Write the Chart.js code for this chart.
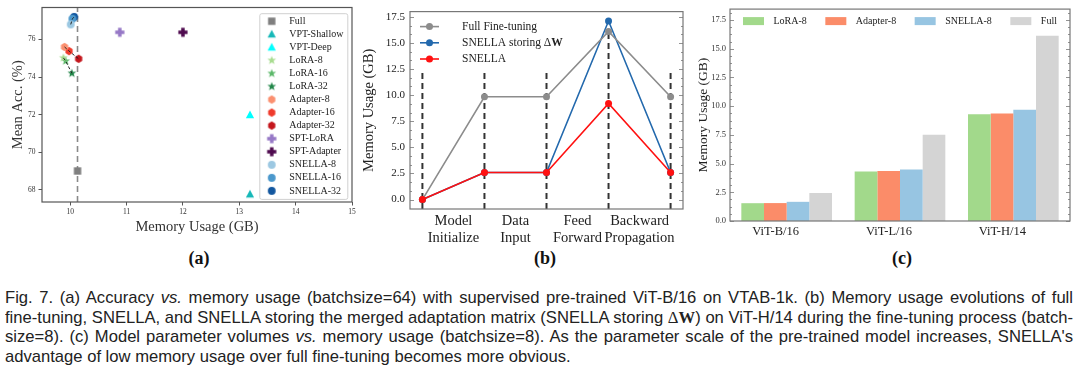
<!DOCTYPE html>
<html>
<head>
<meta charset="utf-8">
<script src="https://cdn.jsdelivr.net/npm/chart.js@4.4.1/dist/chart.umd.min.js"></script>
<style>
  body { margin: 0; background: #fff; width: 1080px; height: 376px; position: relative; overflow: hidden; }
  canvas { position: absolute; }
  #ca { left: 0; top: 0; }
  #cb { left: 360px; top: 0; }
  #cc { left: 690px; top: 0; }
  .plabel { position: absolute; top: 248px; font: bold 18px "Liberation Serif", serif; color: #111; transform: translateX(-50%); }
  #caption { position: absolute; left: 5px; top: 288px; width: 1068px; font-size: 17px; line-height: 19.7px;
             font-family: "Liberation Sans", sans-serif; color: #222; transform-origin: 0 0; }
  #caption div { white-space: nowrap; }
  .dw { font-family: "Liberation Serif", serif; }
</style>
</head>
<body>
<canvas id="ca" width="360" height="240"></canvas>
<canvas id="cb" width="330" height="248"></canvas>
<canvas id="cc" width="390" height="240"></canvas>
<div class="plabel" style="left:199px">(a)</div>
<div class="plabel" style="left:545px">(b)</div>
<div class="plabel" style="left:902px">(c)</div>
<div id="caption">
  <div class="j"><span>Fig. 7. (a) Accuracy <i>vs.</i> memory usage (batchsize=64) with supervised pre-trained ViT-B/16 on VTAB-1k. (b) Memory usage evolutions of full</span></div>
  <div class="j"><span>fine-tuning, SNELLA, and SNELLA storing the merged adaptation matrix (SNELLA storing <span class="dw">&Delta;<b>W</b></span>) on ViT-H/14 during the fine-tuning process (batch-</span></div>
  <div class="j"><span>size=8). (c) Model parameter volumes <i>vs.</i> memory usage (batchsize=8). As the parameter scale of the pre-trained model increases, SNELLA's</span></div>
  <div><span>advantage of low memory usage over full fine-tuning becomes more obvious.</span></div>
</div>
<script>
// (a) accuracy vs. memory usage
const aMethods = ['Full', 'VPT-Shallow', 'VPT-Deep', 'LoRA-8', 'LoRA-16', 'LoRA-32', 'Adapter-8', 'Adapter-16', 'Adapter-32',
                  'SPT-LoRA', 'SPT-Adapter', 'SNELLA-8', 'SNELLA-16', 'SNELLA-32'];
const aMemory = [10.13, 13.19, 13.19, 9.88, 9.92, 10.03, 9.90, 9.98, 10.15, 10.88, 12.0, 10.01, 10.04, 10.07];
const aAcc = [69.0, 67.76, 71.98, 75.02, 74.85, 74.2, 75.6, 75.38, 74.97, 76.38, 76.38, 76.8, 77.1, 77.2];
const aColors = ['#7f7f7f', '#17b8b8', '#00ffff', '#a8dc90', '#5cb86a', '#23874a', '#fb9070', '#ef3b2c', '#c4161c',
                 '#9678c6', '#4f0b4f', '#9cc8e2', '#4b98cc', '#13579f'];
const aShapes = ['square', 'triangle', 'triangle', 'star', 'star', 'star', 'hexagon', 'hexagon', 'hexagon',
                 'plus', 'plus', 'circle', 'circle', 'circle'];
const aLinks = [[3, 4, 5], [6, 7, 8], [11, 12, 13]];
const aTicksX = [10, 11, 12, 13, 14, 15];
const aTicksY = [68, 70, 72, 74, 76];

// (b) memory usage over the fine-tuning stages
const bStages = [['Model', 'Initialize'], ['Data', 'Input'], ['Feed', 'Forward'], ['Backward', 'Propagation']];
const bSeries = ['Full Fine-tuning', 'SNELLA storing \u0394W', 'SNELLA'];
const bFull = [0, 9.85, 9.85, 16.1, 9.85];
const bStoring = [0, 2.6, 2.6, 17.1, 2.6];
const bSnella = [0, 2.6, 2.6, 9.2, 2.6];
const bMarkTop = [12.4, 12.4, 12.4, 16.1, 12.4];
const bTicksY = [0, 2.5, 5, 7.5, 10, 12.5, 15, 17.5];

// (c) model size vs. memory usage
const cModels = ['ViT-B/16', 'ViT-L/16', 'ViT-H/14'];
const cLora = [1.55, 4.32, 9.30];
const cAdapter = [1.56, 4.35, 9.36];
const cSnella = [1.67, 4.49, 9.69];
const cFull = [2.44, 7.51, 16.13];
const cTicksY = [0, 2.5, 5, 7.5, 10, 12.5, 15, 17.5];

const SERIF = '"Liberation Serif", serif';

// squeeze the caption like the condensed face of the paper, then justify
(function () {
  const cap = document.getElementById('caption');
  const spans = [...cap.children].map(d => d.firstElementChild);
  const maxW = Math.max(...spans.map(s => s.getBoundingClientRect().width)) + 2;
  const k = 1068 / maxW;
  cap.style.width = maxW + 'px';
  cap.style.transform = 'scaleX(' + k + ')';
  cap.querySelectorAll('.j').forEach(d => {
    d.style.whiteSpace = 'normal';
    d.style.textAlign = 'justify';
    d.style.textAlignLast = 'justify';
  });
})();

function marker(shape, color, r) {
  const c = document.createElement('canvas');
  const s = Math.ceil(r * 2 + 2);
  c.width = c.height = s;
  const g = c.getContext('2d');
  g.fillStyle = color;
  g.translate(s / 2, s / 2);
  g.beginPath();
  if (shape === 'square') {
    g.rect(-r * 0.8, -r * 0.8, r * 1.6, r * 1.6);
  } else if (shape === 'triangle') {
    g.moveTo(0, -r); g.lineTo(r * 0.9, r * 0.7); g.lineTo(-r * 0.9, r * 0.7);
  } else if (shape === 'star') {
    for (let k = 0; k < 10; k++) {
      const rr = k % 2 ? r * 0.42 : r, an = -Math.PI / 2 + k * Math.PI / 5;
      g.lineTo(rr * Math.cos(an), rr * Math.sin(an));
    }
  } else if (shape === 'hexagon') {
    for (let k = 0; k < 6; k++) {
      const an = -Math.PI / 2 + k * Math.PI / 3;
      g.lineTo(r * 0.9 * Math.cos(an), r * 0.9 * Math.sin(an));
    }
  } else if (shape === 'plus') {
    const w = r * 0.38;
    [[-w, -r], [w, -r], [w, -w], [r, -w], [r, w], [w, w], [w, r], [-w, r], [-w, w], [-r, w], [-r, -w], [-w, -w]]
      .forEach(p => g.lineTo(p[0], p[1]));
  } else {
    g.arc(0, 0, r * 0.85, 0, Math.PI * 2);
  }
  g.closePath();
  g.fill();
  return c;
}

// box around the plot area, with optional inward ticks
const framePlugin = {
  id: 'frame',
  afterDatasetsDraw(chart, args, o) {
    const { ctx, chartArea: a } = chart;
    ctx.save();
    ctx.strokeStyle = o.color || '#666';
    if (o.minor) {
      const y = chart.scales.y;
      const vals = y.ticks.map(t => t.value);
      const step = (vals[1] - vals[0]) / o.minor;
      ctx.lineWidth = 0.8;
      ctx.beginPath();
      for (let k = 0; vals[0] + k * step <= y.max; k++) {
        const p = Math.round(y.getPixelForValue(vals[0] + k * step)) + 0.5;
        const L = k % o.minor === 0 ? 4 : 2;
        ctx.moveTo(a.left, p); ctx.lineTo(a.left + L, p);
        ctx.moveTo(a.right, p); ctx.lineTo(a.right - L, p);
      }
      ctx.stroke();
    }
    ctx.lineWidth = o.width || 1.2;
    ctx.strokeRect(a.left, a.top, a.width, a.height);
    ctx.restore();
  }
};

// legend drawn inside the plot area
const innerLegend = {
  id: 'innerLegend',
  afterDraw(chart, args, o) {
    if (!o.kind) return;
    const { ctx, chartArea: a } = chart;
    const items = chart.data.datasets.filter(d => d.label && d.label[0] !== '_');
    ctx.save();
    ctx.font = o.font;
    ctx.textBaseline = 'middle';
    ctx.fillStyle = '#222';
    if (o.kind === 'marker') {
      const x0 = a.right - o.right - o.width, y0 = a.top + o.top;
      const h = items.length * o.rowH + o.padY * 2;
      ctx.fillStyle = 'rgba(255,255,255,0.85)';
      ctx.strokeStyle = '#d0d0d0';
      ctx.lineWidth = 1;
      ctx.beginPath();
      ctx.roundRect(x0 + 0.5, y0 + 0.5, o.width, h, 2);
      ctx.fill(); ctx.stroke();
      items.forEach((d, i) => {
        const cy = y0 + o.padY + o.rowH * (i + 0.5);
        const img = d.pointStyle;
        ctx.drawImage(img, x0 + o.markX - img.width / 2, cy - img.height / 2);
        ctx.fillStyle = '#222';
        ctx.fillText(d.label, x0 + o.textX, cy);
      });
    } else if (o.kind === 'line') {
      items.forEach((d, i) => {
        const cy = a.top + o.top + o.rowH * i;
        const x0 = a.left + o.left;
        ctx.strokeStyle = d.borderColor; ctx.lineWidth = 1.6;
        ctx.beginPath(); ctx.moveTo(x0, cy); ctx.lineTo(x0 + o.lineW, cy); ctx.stroke();
        ctx.fillStyle = d.borderColor;
        ctx.beginPath(); ctx.arc(x0 + o.lineW / 2, cy, 3.5, 0, Math.PI * 2); ctx.fill();
        ctx.fillStyle = '#222';
        let tx = x0 + o.textX;
        if (d.label.endsWith('W')) {
          const head = d.label.slice(0, -1);
          ctx.fillText(head, tx, cy);
          tx += ctx.measureText(head).width;
          ctx.font = 'bold ' + o.font;
          ctx.fillText('W', tx, cy);
          ctx.font = o.font;
        } else {
          ctx.fillText(d.label, tx, cy);
        }
      });
    } else if (o.kind === 'rect') {
      let x = a.left + o.left;
      const cy = a.top + o.top;
      items.forEach(d => {
        ctx.fillStyle = d.backgroundColor;
        ctx.fillRect(x, cy - o.boxH / 2, o.boxW, o.boxH);
        ctx.fillStyle = '#222';
        ctx.fillText(d.label, x + o.boxW + o.gap, cy);
        x += o.boxW + o.gap + ctx.measureText(d.label).width + o.spacing;
      });
    }
    ctx.restore();
  }
};

Chart.register(framePlugin, innerLegend);

// ---------- (a) ----------
const aYMin = 67.35, aYMax = 77.7;
const aDatasets = aMethods.map((m, i) => ({
  label: m,
  data: [{ x: aMemory[i], y: aAcc[i] }],
  pointStyle: marker(aShapes[i], aColors[i], 4.6),
  pointRadius: 5, pointHoverRadius: 5,
  backgroundColor: aColors[i], borderColor: aColors[i],
  order: 1
}));
aLinks.forEach(g => aDatasets.push({
  label: '_link', data: g.map(i => ({ x: aMemory[i], y: aAcc[i] })),
  showLine: true, pointRadius: 0, borderColor: '#222', borderWidth: 1, borderDash: [3, 2], order: 0
}));
aDatasets.push({
  label: '_fullLine', data: [{ x: aMemory[0], y: aYMin }, { x: aMemory[0], y: aYMax }],
  showLine: true, pointRadius: 0, borderColor: '#8a8a8a', borderWidth: 1.6, borderDash: [6, 4], order: 2
});

new Chart(document.getElementById('ca'), {
  type: 'scatter',
  data: { datasets: aDatasets },
  options: {
    responsive: false, animation: false,
    layout: { padding: { left: 0, right: 8, top: 6, bottom: 0 } },
    plugins: {
      legend: { display: false }, tooltip: { enabled: false },
      frame: { color: '#555', width: 1.2 },
      innerLegend: { kind: 'marker', font: '10px ' + SERIF, right: 4.7, top: 5.7, width: 88,
                     rowH: 13.05, padY: 1.5, markX: 12.4, textX: 30 }
    },
    scales: {
      x: {
        type: 'linear', min: 9.5, max: 15,
        afterBuildTicks: s => { s.ticks = aTicksX.map(v => ({ value: v })); },
        afterFit: s => { s.height = 38; },
        ticks: { font: { family: SERIF, size: 7.5 }, color: '#333', padding: 2, maxRotation: 0 },
        grid: { drawOnChartArea: false, tickLength: 3.5, color: '#555' },
        border: { display: false },
        title: { display: true, text: 'Memory Usage (GB)', color: '#333', font: { family: SERIF, size: 14.5 },
                 padding: { top: 0, bottom: 4 } }
      },
      y: {
        min: aYMin, max: aYMax,
        afterBuildTicks: s => { s.ticks = aTicksY.map(v => ({ value: v })); },
        afterFit: s => { s.width = 42; },
        ticks: { font: { family: SERIF, size: 7.5 }, color: '#333', padding: 3 },
        grid: { drawOnChartArea: false, tickLength: 3.5, color: '#555' },
        border: { display: false },
        title: { display: true, text: 'Mean Acc. (%)', color: '#333', font: { family: SERIF, size: 14.5 },
                 padding: { top: 9, bottom: 0 } }
      }
    }
  }
});

// ---------- (b) ----------
const bYMin = -0.9, bYMax = 18;
const bXY = vals => vals.map((v, i) => ({ x: i, y: v }));
new Chart(document.getElementById('cb'), {
  type: 'line',
  data: {
    datasets: [
      { label: bSeries[0], data: bXY(bFull), borderColor: '#8c8c8c', backgroundColor: '#8c8c8c', order: 1 },
      { label: bSeries[1], data: bXY(bStoring), borderColor: '#2369ad', backgroundColor: '#2369ad', order: 2 },
      { label: bSeries[2], data: bXY(bSnella), borderColor: '#ff1111', backgroundColor: '#ff1111', order: 0 },
      { label: '_marks', data: bMarkTop.flatMap((t, i) => [{ x: i, y: bYMin }, { x: i, y: t }, { x: i, y: null }]),
        borderColor: '#333', borderWidth: 2, borderDash: [6, 4], pointRadius: 0, order: 3 }
    ]
  },
  options: {
    responsive: false, animation: false,
    elements: { line: { borderWidth: 1.6, tension: 0 }, point: { radius: 3.5, hoverRadius: 3.5, borderWidth: 0 } },
    layout: { padding: { left: 0, right: 7, top: 5, bottom: 0 } },
    plugins: {
      legend: { display: false }, tooltip: { enabled: false },
      frame: { color: '#777', width: 1.2, minor: 3 },
      innerLegend: { kind: 'line', font: '11.5px ' + SERIF, left: 10, top: 15, rowH: 16.2, lineW: 19, textX: 42 }
    },
    scales: {
      x: {
        type: 'linear', min: -0.2, max: 4.2,
        afterBuildTicks: s => { s.ticks = bStages.map((l, i) => ({ value: i + 0.5 })); },
        afterFit: s => { s.height = 39; },
        ticks: { font: { family: SERIF, size: 14.5 }, color: '#222', padding: 3, maxRotation: 0,
                 callback: (v, i) => bStages[i] },
        grid: { display: false, drawTicks: false },
        border: { display: false }
      },
      y: {
        min: bYMin, max: bYMax,
        afterBuildTicks: s => { s.ticks = bTicksY.map(v => ({ value: v })); },
        afterFit: s => { s.width = 50; },
        ticks: { font: { family: SERIF, size: 11 }, color: '#222', padding: 5, callback: v => v.toFixed(1) },
        grid: { display: false, drawTicks: false },
        border: { display: false },
        title: { display: true, text: 'Memory Usage (GB)', color: '#222', font: { family: SERIF, size: 14.5 },
                 padding: { top: 0, bottom: 0 } }
      }
    }
  }
});

// ---------- (c) ----------
new Chart(document.getElementById('cc'), {
  type: 'bar',
  data: {
    labels: cModels,
    datasets: [
      { label: 'LoRA-8', data: cLora, backgroundColor: '#a2d98b' },
      { label: 'Adapter-8', data: cAdapter, backgroundColor: '#fb8c69' },
      { label: 'SNELLA-8', data: cSnella, backgroundColor: '#97c5e2' },
      { label: 'Full', data: cFull, backgroundColor: '#d4d4d4' }
    ]
  },
  options: {
    responsive: false, animation: false,
    datasets: { bar: { categoryPercentage: 0.8, barPercentage: 1.0, borderWidth: 0 } },
    layout: { padding: { left: 0, right: 10, top: 5, bottom: 0 } },
    plugins: {
      legend: { display: false }, tooltip: { enabled: false },
      frame: { color: '#777', width: 1.2, minor: 4 },
      innerLegend: { kind: 'rect', font: '10px ' + SERIF, left: 13, top: 12, boxW: 21, boxH: 8, gap: 9.5, spacing: 18.5 }
    },
    scales: {
      x: {
        afterFit: s => { s.height = 19; },
        ticks: { font: { family: SERIF, size: 12.5 }, color: '#222', padding: 3, labelOffset: -11, maxRotation: 0 },
        grid: { display: false, drawTicks: false },
        border: { display: false }
      },
      y: {
        min: 0, max: 18.45,
        afterBuildTicks: s => { s.ticks = cTicksY.map(v => ({ value: v })); },
        afterFit: s => { s.width = 40; },
        ticks: { font: { family: SERIF, size: 8.5 }, color: '#333', padding: 4, callback: v => v.toFixed(1) },
        grid: { display: false, drawTicks: false },
        border: { display: false },
        title: { display: true, text: 'Memory Usage (GB)', color: '#222', font: { family: SERIF, size: 13.5 },
                 padding: { top: 5, bottom: 0 } }
      }
    }
  }
});
</script>
</body>
</html>
